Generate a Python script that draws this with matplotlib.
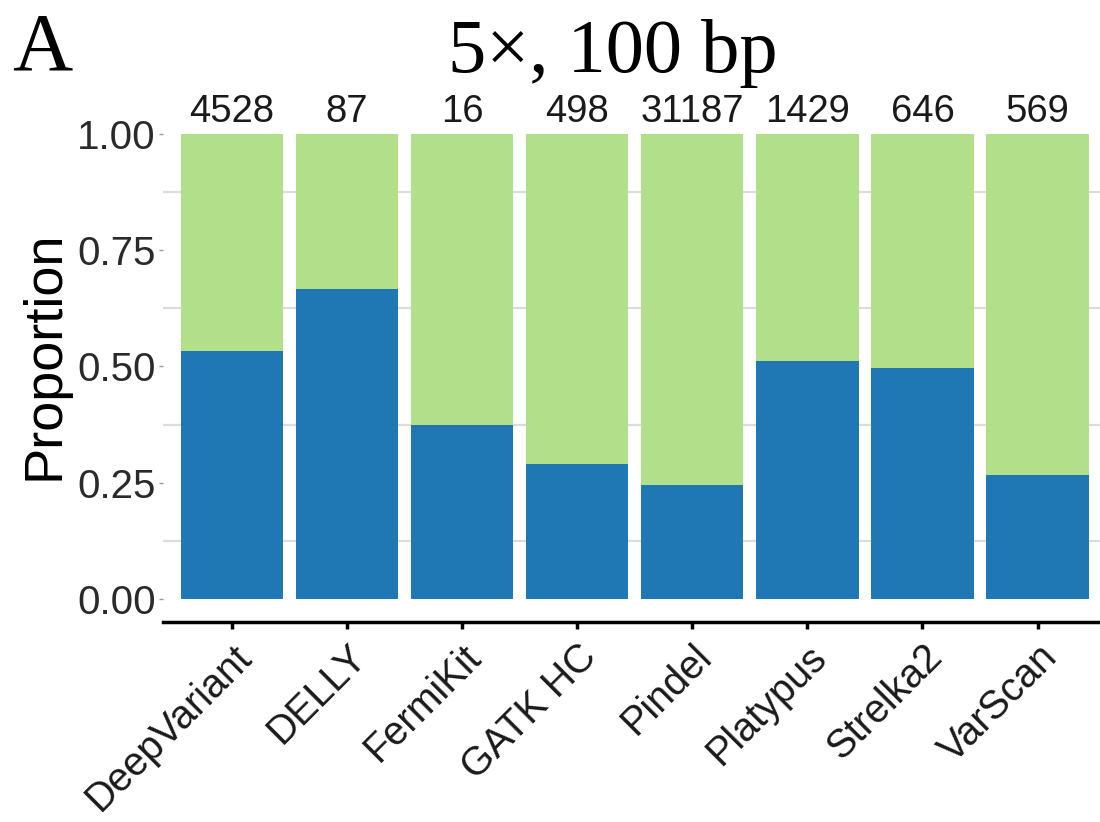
import matplotlib
matplotlib.use("Agg")
import matplotlib.pyplot as plt
import numpy as np

categories = ["DeepVariant", "DELLY", "FermiKit", "GATK HC", "Pindel",
              "Platypus", "Strelka2", "VarScan"]
blue_prop = [0.533, 0.667, 0.375, 0.290, 0.245, 0.512, 0.497, 0.267]
counts = [4528, 87, 16, 498, 31187, 1429, 646, 569]
title = "5×, 100 bp"
panel_tag = "A"

blue = "#1F78B4"
green = "#B2DF8A"

fig = plt.figure(figsize=(11, 8.22), dpi=100)
ax = fig.add_axes([0.148, 0.2433, 0.858, 0.6217])

x = np.arange(len(categories))
bp = np.array(blue_prop)
ax.bar(x, bp, width=0.89, color=blue, zorder=2)
ax.bar(x, 1 - bp, bottom=bp, width=0.89, color=green, zorder=2)

for yg in [0.125, 0.375, 0.625, 0.875]:
    ax.axhline(yg, color="#dcdcdc", lw=1.6, zorder=1)

for xi, c in zip(x, counts):
    ax.annotate(str(c), (xi, 1.0), xytext=(0, 3), textcoords="offset points",
                ha="center", va="bottom", fontsize=27.5, family="Liberation Sans",
                color="#1a1a1a")

ax.set_xlim(-0.6, len(categories) - 0.4)
ax.set_ylim(-0.05, 1.05)
ax.set_yticks([0, 0.25, 0.5, 0.75, 1.0])
ax.set_yticklabels(["0.00", "0.25", "0.50", "0.75", "1.00"],
                   fontsize=29, family="Liberation Sans", color="#2a2a2a")
ax.set_xticks(x)
ax.set_xticklabels(categories, rotation=45, ha="right", rotation_mode="anchor",
                   fontsize=28.5, family="Liberation Sans", color="#1a1a1a")
ax.tick_params(axis="y", length=3, width=1, color="#999999", pad=2)
ax.tick_params(axis="x", length=5, width=2.5, color="black", pad=6)

for s in ["left", "right", "top"]:
    ax.spines[s].set_visible(False)
ax.spines["bottom"].set_linewidth(2.5)
ax.spines["bottom"].set_color("black")

ax.set_ylabel("Proportion", fontsize=39, family="Liberation Sans")
ax.yaxis.set_label_coords(-0.099, 0.522)

fig.text(0.557, 0.912, title, ha="center", va="baseline", fontsize=55,
         family="Liberation Serif")
fig.text(0.011, 0.915, panel_tag, ha="left", va="baseline", fontsize=60,
         family="Liberation Serif")

fig.savefig("out.png", dpi=100)
